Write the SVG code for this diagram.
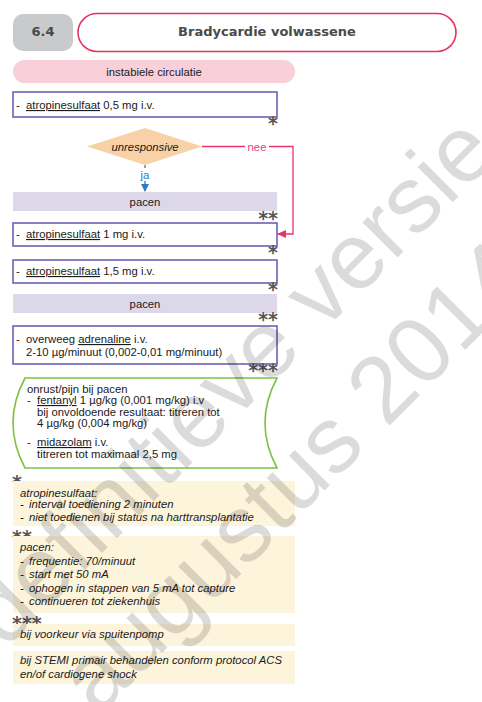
<svg xmlns="http://www.w3.org/2000/svg" width="482" height="702" viewBox="0 0 482 702">
<style>
.t{font-family:"Liberation Sans",Arial,sans-serif;font-size:11.3px;fill:#1a1a1a}
.i{font-style:italic}
.c{text-anchor:middle}
.u{text-decoration:underline}
.box{fill:#fff;stroke:#6f60b4;stroke-width:1.6}
.bar{fill:#dcd8e9}
.note{fill:#fdf4dc}
.star{font-family:"DejaVu Sans",sans-serif;font-weight:bold;font-size:19px;fill:#555}
.se{text-anchor:end}
.hd{font-family:"DejaVu Sans",sans-serif;font-weight:bold;font-size:13px;fill:#4a4a4a;text-anchor:middle}
</style>
<defs>
<marker id="ab" markerWidth="8" markerHeight="8" refX="7" refY="4" orient="auto" markerUnits="userSpaceOnUse"><path d="M0,0 L8,4 L0,8 Z" fill="#2f78c2"/></marker>
<marker id="ap" markerWidth="9" markerHeight="8" refX="8" refY="4" orient="auto" markerUnits="userSpaceOnUse"><path d="M0,0 L9,4 L0,8 Z" fill="#e8336f"/></marker>
</defs>
<rect width="482" height="702" fill="#fff"/>

<g id="chapter">
<rect x="13" y="14" width="60" height="37" rx="10" fill="#c9cacc"/>
<text class="hd" x="43" y="36">6.4</text>
</g>
<g id="title">
<rect x="78" y="13.5" width="378" height="38" rx="19" fill="#fff" stroke="#e5335d" stroke-width="1.6"/>
<text class="hd" x="267" y="36">Bradycardie volwassene</text>
</g>
<g id="instabiel">
<rect x="13" y="60" width="282" height="23" rx="11.5" fill="#f9d0da"/>
<text class="t c" x="154" y="75.5">instabiele circulatie</text>
</g>

<g id="atropine05">
<rect class="box" x="13" y="92" width="264" height="25"/>
<text class="t" x="16" y="109">-</text>
<text class="t" x="26" y="109"><tspan class="u">atropinesulfaat</tspan> 0,5 mg i.v.</text>
<text class="star se" x="278" y="129.5">*</text>
</g>

<g id="unresponsive">
<path d="M87,146.5 L145,128 L202,146.5 L145,165 Z" fill="#f8d2a6"/>
<text class="t c i" x="145" y="150.5">unresponsive</text>
</g>

<g id="pacen1">
<rect class="bar" x="13" y="192" width="264" height="19"/>
<text class="t c" x="145" y="206">pacen</text>
<text class="star se" x="278" y="225">**</text>
</g>

<g id="atropine1">
<rect class="box" x="13" y="223" width="264" height="23"/>
<text class="t" x="16" y="238">-</text>
<text class="t" x="26" y="238"><tspan class="u">atropinesulfaat</tspan> 1 mg i.v.</text>
<text class="star se" x="278" y="259">*</text>
</g>

<g id="atropine15">
<rect class="box" x="13" y="260" width="264" height="23"/>
<text class="t" x="16" y="275">-</text>
<text class="t" x="26" y="275"><tspan class="u">atropinesulfaat</tspan> 1,5 mg i.v.</text>
<text class="star se" x="278" y="296">*</text>
</g>

<g id="pacen2">
<rect class="bar" x="13" y="294" width="264" height="19"/>
<text class="t c" x="145" y="308">pacen</text>
<text class="star se" x="278" y="326">**</text>
</g>

<g id="adrenaline">
<rect class="box" x="13" y="326" width="264" height="38"/>
<text class="t" x="16" y="343">-</text>
<text class="t" x="26" y="343">overweeg <tspan class="u">adrenaline</tspan> i.v.</text>
<text class="t" x="26" y="356">2-10 µg/minuut (0,002-0,01 mg/minuut)</text>
<text class="star se" x="278" y="377">***</text>
</g>

<g id="sedatie">
<path d="M25,378 H277 Q253,423 277,468 H25 Q1,423 25,378 Z" fill="#fff" stroke="#7dc143" stroke-width="1.6"/>
<text class="t" x="27" y="393">onrust/pijn bij pacen</text>
<text class="t" x="27" y="404">-</text>
<text class="t" x="37" y="404"><tspan class="u">fentanyl</tspan> 1 µg/kg (0,001 mg/kg) i.v</text>
<text class="t" x="37" y="416">bij onvoldoende resultaat: titreren tot</text>
<text class="t" x="37" y="427">4 µg/kg (0,004 mg/kg)</text>
<text class="t" x="27" y="446">-</text>
<text class="t" x="37" y="446"><tspan class="u">midazolam</tspan> i.v.</text>
<text class="t" x="37" y="458">titreren tot maximaal 2,5 mg</text>
</g>

<g id="note1">
<text class="star" x="12" y="489">*</text>
<rect class="note" x="13" y="481" width="282" height="45"/>
<text class="t i" x="20" y="497">atropinesulfaat:</text>
<text class="t i" x="20" y="508">-</text>
<text class="t i" x="29" y="508">interval toediening 2 minuten</text>
<text class="t i" x="20" y="521">-</text>
<text class="t i" x="29" y="521">niet toedienen bij status na harttransplantatie</text>
</g>

<g id="note2">
<text class="star" x="12" y="544">**</text>
<rect class="note" x="13" y="536" width="282" height="77"/>
<text class="t i" x="20" y="551">pacen:</text>
<text class="t i" x="20" y="565">-</text>
<text class="t i" x="29" y="565">frequentie: 70/minuut</text>
<text class="t i" x="20" y="578">-</text>
<text class="t i" x="29" y="578">start met 50 mA</text>
<text class="t i" x="20" y="592">-</text>
<text class="t i" x="29" y="592">ophogen in stappen van 5 mA tot capture</text>
<text class="t i" x="20" y="605">-</text>
<text class="t i" x="29" y="605">continueren tot ziekenhuis</text>
</g>

<g id="note3">
<text class="star" x="12" y="630">***</text>
<rect class="note" x="13" y="624" width="282" height="22"/>
<text class="t i" x="20" y="638">bij voorkeur via spuitenpomp</text>
</g>

<g id="note4">
<rect class="note" x="13" y="651" width="282" height="33"/>
<text class="t i" x="20" y="664">bij STEMI primair behandelen conform protocol ACS</text>
<text class="t i" x="20" y="678">en/of cardiogene shock</text>
</g>

<g id="connectors" fill="none" stroke-width="1.3">
<path d="M145,165 V168" stroke="#2f78c2"/>
<path d="M145,181 V191" stroke="#2f78c2" marker-end="url(#ab)"/>
<text class="t c" x="145" y="178.5" style="fill:#2f78c2" stroke="none">ja</text>
<path d="M202,146.5 H245 M269,146.5 H293 V234 H278" stroke="#e8336f" marker-end="url(#ap)"/>
<text class="t c" x="257" y="150.5" style="fill:#e8407a" stroke="none">nee</text>
</g>

<g id="watermark" font-family="Liberation Sans, Arial, sans-serif" font-size="94" fill="#000" fill-opacity="0.14">
<text transform="translate(5,650) rotate(-45)">definitieve versie</text>
<text transform="translate(98,717) rotate(-45)">augustus 2014</text>
</g>
</svg>
